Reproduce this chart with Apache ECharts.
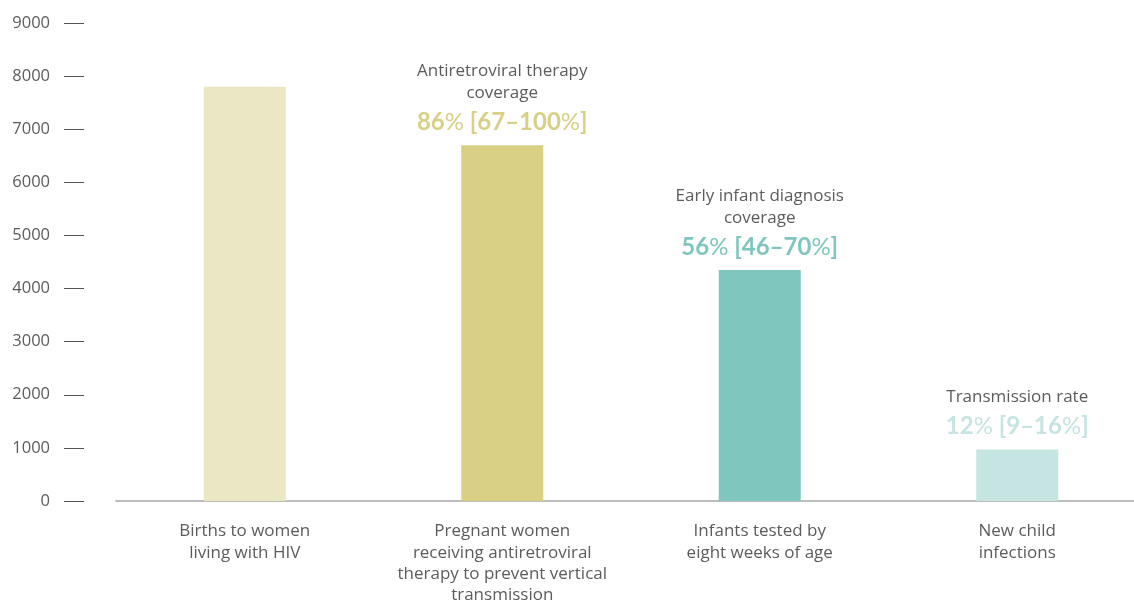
<!DOCTYPE html>
<html>
<head>
<meta charset="utf-8">
<script src="https://cdn.jsdelivr.net/npm/echarts@6/dist/echarts.min.js"></script>
<style>
  html, body { margin: 0; padding: 0; background: #fff; }
  #chart { width: 1134px; height: 602px; }
</style>
</head>
<body>
<div id="chart"></div>
<script>
const categories = [
  'Births to women\nliving with HIV',
  'Pregnant women\nreceiving antiretroviral\ntherapy to prevent vertical\ntransmission',
  'Infants tested by\neight weeks of age',
  'New child\ninfections'
];
const values = [7800, 6700, 4350, 970];
const noteTitles = ['', 'Antiretroviral therapy\ncoverage', 'Early infant diagnosis\ncoverage', 'Transmission rate'];
const noteValues = ['', '86% [67–100%]', '56% [46–70%]', '12% [9–16%]'];

const barColors = ['#ebe6c4', '#d9d086', '#7fc6be', '#c5e4e2'];
const textFont = '"Open Sans", "Noto Sans", sans-serif';
const bigFont = 'Lato, "Open Sans", sans-serif';

// bold digits, light percent signs
function bigText(str, idx) {
  const parts = str.split('%');
  let out = '';
  parts.forEach((p, i) => {
    if (p) out += '{b' + idx + '|' + p + '}';
    if (i < parts.length - 1) out += '{p' + idx + '|%}';
  });
  return out;
}

const rich = { t: { fontSize: 17, color: '#5c5c5c', lineHeight: 22, fontFamily: textFont } };
barColors.forEach((c, i) => {
  rich['b' + i] = { fontSize: 24, fontWeight: 'bold', color: c, lineHeight: 36, fontFamily: bigFont };
  rich['p' + i] = { fontSize: 24, fontWeight: 'normal', color: c, lineHeight: 36, fontFamily: bigFont };
});

const data = values.map((v, i) => {
  const item = { value: v, itemStyle: { color: barColors[i] } };
  if (!noteTitles[i]) {
    item.label = { show: false };
  } else {
    const lines = noteTitles[i].split('\n').map(l => '{t|' + l + '}');
    item.label = { formatter: lines.join('\n') + '\n' + bigText(noteValues[i], i) };
  }
  return item;
});

const chart = echarts.init(document.getElementById('chart'));
chart.setOption({
  animation: false,
  grid: { left: 116, width: 1030, top: 23, bottom: 101, outerBoundsMode: 'none', containLabel: false },
  xAxis: {
    type: 'category',
    data: categories,
    axisLine: { lineStyle: { color: '#bdbdbd', width: 2 } },
    axisTick: { show: false },
    axisLabel: { color: '#5c5c5c', fontSize: 17, lineHeight: 21.3, margin: 20, fontFamily: textFont, interval: 0 }
  },
  yAxis: {
    type: 'value',
    min: 0,
    max: 9000,
    interval: 1000,
    offset: 32,
    splitLine: { show: false },
    axisLine: { show: false },
    axisTick: { show: true, length: 20, lineStyle: { color: '#555', width: 1 } },
    axisLabel: {
      color: '#5c5c5c', fontSize: 16.5, margin: 34, fontFamily: textFont,
      formatter: v => String(v)
    }
  },
  series: [{
    type: 'bar',
    data: data,
    barWidth: 82,
    label: { show: true, position: 'top', distance: 5, align: 'center', rich: rich }
  }]
});
</script>
</body>
</html>
